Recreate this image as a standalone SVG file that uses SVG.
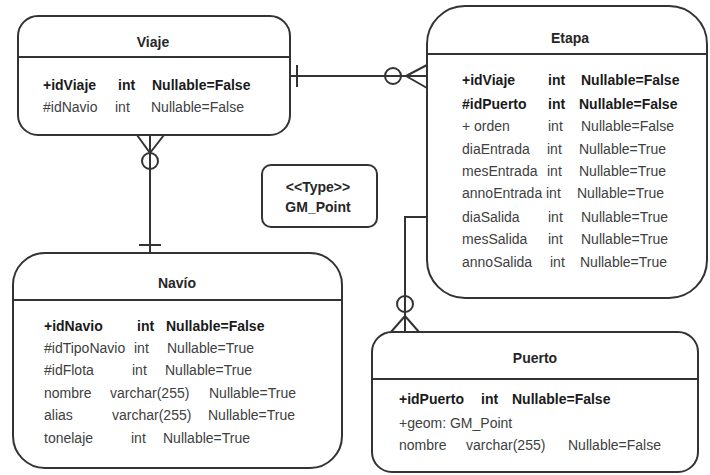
<svg xmlns="http://www.w3.org/2000/svg" width="710" height="475" viewBox="0 0 710 475">
<style>
.box{fill:#fff;stroke:#333;stroke-width:2}
.ln{fill:none;stroke:#333;stroke-width:2}
text{font-family:"Liberation Sans",Arial,sans-serif;font-size:14px;fill:#404040}
.t{font-weight:bold;fill:#262626;text-anchor:middle}
.b{font-weight:bold;fill:#1a1a1a}
</style>
<rect width="710" height="475" fill="#fff"/>
<g id="connectors">
  <line class="ln" x1="290" y1="76" x2="427" y2="76"/>
  <line class="ln" x1="297" y1="65" x2="297" y2="87"/>
  <circle class="ln" cx="393" cy="76" r="8" fill="#fff"/>
  <path class="ln" d="M401 76 L427 76 M406 76 L427 65 M406 76 L427 88"/>
  <line class="ln" x1="150" y1="135" x2="150" y2="253"/>
  <line class="ln" x1="139" y1="245" x2="161" y2="245"/>
  <circle class="ln" cx="150" cy="161" r="8" fill="#fff"/>
  <path class="ln" d="M150 153 L150 135 M150 153 L137 135 M150 153 L164 135"/>
  <path class="ln" d="M427 217 L405 217 L405 332"/>
  <circle class="ln" cx="405" cy="304" r="8" fill="#fff"/>
  <path class="ln" d="M405 312 L405 332 M405 316 L391 332 M405 316 L419 332"/>
</g>
<g id="Viaje">
  <rect class="box" x="18" y="16" width="272" height="119" rx="20"/>
  <line class="ln" x1="18" y1="57" x2="290" y2="57"/>
  <text class="t" x="153" y="47">Viaje</text>
  <text class="b" x="43" y="90">+idViaje</text><text class="b" x="118" y="90">int</text><text class="b" x="152" y="90">Nullable=False</text>
  <text x="43" y="112">#idNavio</text><text x="115" y="112">int</text><text x="151" y="112">Nullable=False</text>
</g>
<g id="Etapa">
  <rect class="box" x="427" y="6" width="280" height="292" rx="38"/>
  <line class="ln" x1="427" y1="54" x2="707" y2="54"/>
  <text class="t" x="570" y="43">Etapa</text>
  <text class="b" x="462" y="85">+idViaje</text><text class="b" x="548" y="85">int</text><text class="b" x="581" y="85">Nullable=False</text>
  <text class="b" x="462" y="109">#idPuerto</text><text class="b" x="548" y="109">int</text><text class="b" x="579" y="109">Nullable=False</text>
  <text x="462" y="131">+ orden</text><text x="548" y="131">int</text><text x="581" y="131">Nullable=False</text>
  <text x="462" y="154">diaEntrada</text><text x="547" y="154">int</text><text x="579" y="154">Nullable=True</text>
  <text x="462" y="176">mesEntrada</text><text x="547" y="176">int</text><text x="579" y="176">Nullable=True</text>
  <text x="462" y="198">annoEntrada</text><text x="546" y="198">int</text><text x="577" y="198">Nullable=True</text>
  <text x="462" y="222">diaSalida</text><text x="548" y="222">int</text><text x="581" y="222">Nullable=True</text>
  <text x="462" y="244">mesSalida</text><text x="548" y="244">int</text><text x="581" y="244">Nullable=True</text>
  <text x="462" y="267">annoSalida</text><text x="550" y="267">int</text><text x="580" y="267">Nullable=True</text>
</g>
<g id="GM_Point">
  <rect class="box" x="262" y="165" width="115" height="62" rx="9"/>
  <text class="t" x="318" y="192">&lt;&lt;Type&gt;&gt;</text>
  <text class="t" x="318" y="212">GM_Point</text>
</g>
<g id="Navio">
  <rect class="box" x="13" y="253" width="329" height="215" rx="32"/>
  <line class="ln" x1="13" y1="300" x2="342" y2="300"/>
  <text class="t" x="177" y="288">Navío</text>
  <text class="b" x="44" y="331">+idNavio</text><text class="b" x="137" y="331">int</text><text class="b" x="166" y="331">Nullable=False</text>
  <text x="44" y="353">#idTipoNavio</text><text x="134" y="353">int</text><text x="167" y="353">Nullable=True</text>
  <text x="44" y="375">#idFlota</text><text x="132" y="375">int</text><text x="165" y="375">Nullable=True</text>
  <text x="44" y="398">nombre</text><text x="110" y="398">varchar(255)</text><text x="209" y="398">Nullable=True</text>
  <text x="44" y="420">alias</text><text x="112" y="420">varchar(255)</text><text x="208" y="420">Nullable=True</text>
  <text x="44" y="443">tonelaje</text><text x="131" y="443">int</text><text x="163" y="443">Nullable=True</text>
</g>
<g id="Puerto">
  <rect class="box" x="372" y="332" width="326" height="140" rx="20"/>
  <line class="ln" x1="372" y1="379" x2="698" y2="379"/>
  <text class="t" x="535" y="363">Puerto</text>
  <text class="b" x="399" y="404">+idPuerto</text><text class="b" x="481" y="404">int</text><text class="b" x="512" y="404">Nullable=False</text>
  <text x="399" y="428">+geom: GM_Point</text>
  <text x="399" y="450">nombre</text><text x="466" y="450">varchar(255)</text><text x="568" y="450">Nullable=False</text>
</g>
</svg>
